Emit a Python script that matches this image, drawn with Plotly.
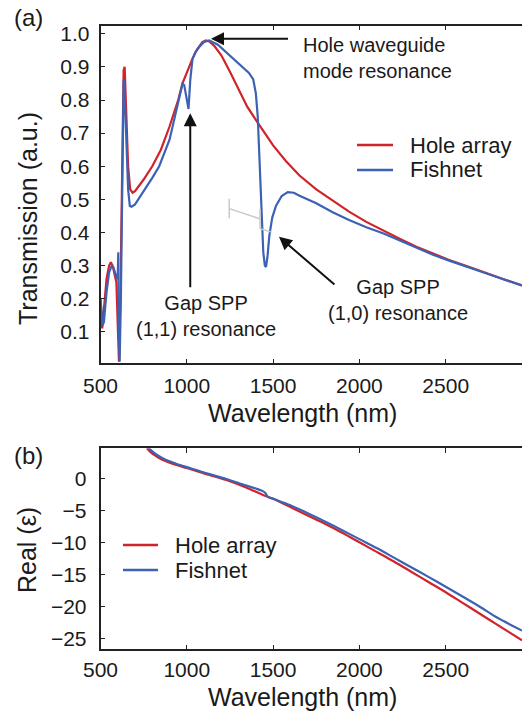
import plotly.graph_objects as go

# ---------------- data ----------------
# Panel (a): transmission spectra
hole_wl = [500, 505, 510, 520, 535, 550, 560, 570, 580, 592, 600, 607, 615, 625, 634, 640,
           648, 660, 672, 686, 700, 750, 800, 850, 900, 950, 975, 1000, 1033, 1060, 1090,
           1110, 1130, 1160, 1200, 1250, 1300, 1350, 1400, 1450, 1500, 1575, 1653, 1750,
           1845, 1940, 2040, 2140, 2233, 2330, 2426, 2520, 2621, 2720, 2820, 2942]
hole_T = [0.20, 0.13, 0.11, 0.17, 0.26, 0.30, 0.31, 0.30, 0.28, 0.25, 0.12, 0.01, 0.20, 0.60,
          0.89, 0.90, 0.78, 0.60, 0.53, 0.52, 0.525, 0.56, 0.60, 0.65, 0.72, 0.80, 0.85,
          0.885, 0.925, 0.953, 0.975, 0.98, 0.977, 0.963, 0.935, 0.885, 0.83, 0.78, 0.74,
          0.70, 0.663, 0.615, 0.572, 0.53, 0.496, 0.463, 0.432, 0.405, 0.381, 0.357, 0.336,
          0.317, 0.299, 0.28, 0.262, 0.24]

fish_wl = [500, 505, 512, 520, 535, 550, 565, 575, 585, 595, 600, 603, 605, 611, 618, 626,
           634, 638, 648, 660, 670, 680, 700, 714, 750, 800, 840, 900, 940, 965, 975, 985,
           1000, 1010, 1020, 1033, 1050, 1072, 1100, 1130, 1180, 1227, 1280, 1323, 1360,
           1385, 1400, 1411, 1420, 1430, 1443, 1452, 1459, 1468, 1478, 1495, 1517, 1550,
           1585, 1620, 1653, 1750, 1845, 1940, 2040, 2140, 2233, 2330, 2426, 2520, 2621,
           2720, 2820, 2942]
fish_T = [0.20, 0.15, 0.12, 0.13, 0.22, 0.28, 0.30, 0.295, 0.28, 0.26, 0.27, 0.34, 0.15, 0.01,
          0.20, 0.60, 0.86, 0.85, 0.70, 0.53, 0.48, 0.478, 0.485, 0.497, 0.525, 0.565, 0.60,
          0.68, 0.77, 0.83, 0.849, 0.845, 0.80, 0.773, 0.86, 0.924, 0.945, 0.96, 0.975, 0.98,
          0.967, 0.945, 0.92, 0.90, 0.882, 0.862, 0.82, 0.75, 0.643, 0.492, 0.341, 0.30,
          0.296, 0.33, 0.39, 0.445, 0.481, 0.51, 0.522, 0.52, 0.511, 0.488, 0.461, 0.438,
          0.416, 0.397, 0.376, 0.354, 0.333, 0.315, 0.298, 0.279, 0.261, 0.24]

# Panel (b): real part of permittivity
hole_eps_wl = [769, 790, 820, 850, 900, 950, 1000, 1100, 1229, 1340, 1441, 1500, 1600, 1700,
               1800, 1900, 2000, 2100, 2200, 2300, 2400, 2500, 2600, 2700, 2800, 2942]
hole_eps = [4.7, 4.1, 3.5, 3.0, 2.45, 2.0, 1.6, 0.75, -0.27, -1.4, -2.6, -3.2, -4.5, -5.8,
            -7.1, -8.5, -10.0, -11.5, -13.0, -14.6, -16.2, -17.8, -19.5, -21.2, -22.9, -25.3]

fish_eps_wl = [780, 800, 830, 860, 900, 950, 1000, 1100, 1229, 1340, 1400, 1440, 1455, 1470,
               1500, 1600, 1700, 1800, 1900, 2000, 2100, 2200, 2300, 2400, 2500, 2600, 2700,
               2800, 2942]
fish_eps = [4.7, 4.2, 3.6, 3.15, 2.65, 2.15, 1.75, 0.9, -0.1, -1.1, -1.6, -2.0, -2.3, -2.9,
            -3.2, -4.2, -5.45, -6.75, -8.1, -9.5, -10.9, -12.4, -13.9, -15.4, -16.95, -18.5,
            -20.1, -21.8, -23.8]

x_ticks = [500, 1000, 1500, 2000, 2500]
T_ticks = [0.1, 0.2, 0.3, 0.4, 0.5, 0.6, 0.7, 0.8, 0.9, 1.0]
eps_ticks = [0, -5, -10, -15, -20, -25]
series_names = ["Hole array", "Fishnet"]

# ---------------- styling ----------------
W, H = 522, 715
RED = "#d1232a"
BLUE = "#3c62b3"
FONT = "Liberation Sans, Arial, Helvetica, sans-serif"
INK = "#1a1a1a"


def px(x):
    return x / W


def py(y):
    return 1 - y / H


fig = go.Figure()
fig.add_trace(go.Scatter(x=hole_wl, y=hole_T, mode="lines", name=series_names[0],
                         line=dict(color=RED, width=2.2), xaxis="x", yaxis="y"))
fig.add_trace(go.Scatter(x=fish_wl, y=fish_T, mode="lines", name=series_names[1],
                         line=dict(color=BLUE, width=2.2), xaxis="x", yaxis="y"))
fig.add_trace(go.Scatter(x=hole_eps_wl, y=hole_eps, mode="lines", name=series_names[0],
                         line=dict(color=RED, width=2.2, shape="spline", smoothing=0.8),
                         xaxis="x2", yaxis="y2"))
fig.add_trace(go.Scatter(x=fish_eps_wl, y=fish_eps, mode="lines", name=series_names[1],
                         line=dict(color=BLUE, width=2.2, shape="spline", smoothing=0.8),
                         xaxis="x2", yaxis="y2"))

axis_common = dict(showline=True, linecolor="#222", linewidth=1.5, ticks="inside", ticklen=5,
                   tickwidth=1.2, tickcolor="#222", showgrid=False, zeroline=False,
                   automargin=False,
                   tickfont=dict(family=FONT, size=21, color=INK))

xdom = [100.5 / W, 1.0]
fig.update_layout(
    width=W, height=H,
    margin=dict(l=0, r=0, t=0, b=0, autoexpand=False),
    paper_bgcolor="white", plot_bgcolor="white",
    showlegend=False,
    xaxis=dict(domain=xdom, range=[500, 2942], tickvals=x_ticks, mirror="ticks", anchor="y",
               ticklabelstandoff=3, **axis_common),
    yaxis=dict(domain=[py(363.3), py(25.5)], range=[0.005, 1.025], tickvals=T_ticks,
               tickformat=".1f", anchor="x", mirror=False, ticklabelstandoff=5, **axis_common),
    xaxis2=dict(domain=xdom, range=[500, 2942], tickvals=x_ticks, mirror="ticks", anchor="y2",
                ticklabelstandoff=1, **axis_common),
    yaxis2=dict(domain=[py(649.3), py(448.3)], range=[-26.72, 4.69], tickvals=eps_ticks,
                anchor="x2", mirror=False, ticklabelstandoff=8, **axis_common),
)

annots = []


def text(t, x, y, size, xanchor="center", angle=0, align="center"):
    annots.append(dict(text=t, x=px(x), y=py(y), xref="paper", yref="paper",
                       xanchor=xanchor, yanchor="middle", align=align, textangle=angle,
                       showarrow=False, font=dict(family=FONT, size=size, color=INK)))


# axis titles and panel labels
text("Wavelength (nm)", 302.5, 413, 25)
text("Wavelength (nm)", 302.5, 697, 25)
text("Transmission (a.u.)", 28, 219, 25, angle=-90)
text("Real (ε)", 27, 550, 25, angle=-90)
text("(a)", 28, 17, 24)
text("(b)", 28, 455, 24)

# legends (sample line + label)
legend_spec = [((357, 393, 408), (145, 170)), ((123, 158, 173), (545, 570))]
for (lx0, lx1, tx), ys in legend_spec:
    for name, color, yy in zip(series_names, [RED, BLUE], ys):
        fig.add_shape(type="line", xref="paper", yref="paper", x0=px(lx0), x1=px(lx1),
                      y0=py(yy), y1=py(yy), line=dict(color=color, width=2.4))
        text(name, tx, yy, 22, xanchor="left", align="left")

# arrows (tip at x,y ; tail at ax,ay in data coords)
arrow_style = dict(showarrow=True, arrowhead=2, arrowsize=1.3, arrowwidth=2, arrowcolor="#111",
                   xref="x", yref="y", axref="x", ayref="y", text="")
annots.append(dict(x=1140, y=0.985, ax=1595, ay=0.985, **arrow_style))
annots.append(dict(x=1020, y=0.76, ax=1020, ay=0.23, **arrow_style))
annots.append(dict(x=1534, y=0.387, ax=1864, ay=0.239, **arrow_style))

# annotation texts
text("Hole waveguide<br>mode resonance", 301, 58, 20, xanchor="left", align="left")
text("Gap SPP<br>(1,1) resonance", 206, 316, 20)
text("Gap SPP<br>(1,0) resonance", 398, 300, 20)
fig.update_layout(annotations=annots)

# light grey marker drawn in panel (a)
grey = dict(type="line", xref="x", yref="y", line=dict(color="#c8c8c8", width=1.5))
fig.add_shape(x0=1246, x1=1246, y0=0.443, y1=0.5015, **grey)
fig.add_shape(x0=1246, x1=1424, y0=0.472, y1=0.441, **grey)
fig.add_shape(x0=1424, x1=1424, y0=0.411, y1=0.471, **grey)
fig.add_shape(x0=1424, x1=1492, y0=0.411, y1=0.401, **grey)

fig.write_html("out.html")
